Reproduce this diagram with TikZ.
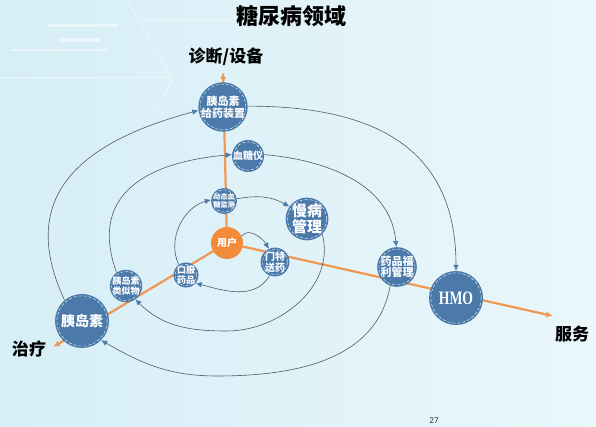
\documentclass[tikz,border=0pt]{standalone}
\usepackage{fontspec}
\newfontfamily\cjk{Noto Sans CJK SC}
\newfontfamily\numfont{Carlito}
\newfontfamily\hmofont{Liberation Serif}
\usetikzlibrary{calc,arrows.meta,backgrounds}

\definecolor{bgleft}{RGB}{214,238,246}
\definecolor{bgright}{RGB}{234,247,251}
\definecolor{nodeblue}{RGB}{74,121,170}
\definecolor{userorange}{RGB}{242,140,58}
\definecolor{axisorange}{RGB}{240,152,82}
\definecolor{arcgray}{RGB}{78,90,106}

\newcommand{\bfsize}[2]{\cjk\bfseries\fontsize{#1}{#2}\selectfont}

\tikzset{
    dashring/.style={path picture={
        \draw[white, densely dashed, line width=0.4pt]
            let \p1 = ($(path picture bounding box.north east)-(path picture bounding box.center)$)
            in (path picture bounding box.center) circle[radius=\x1-1.8pt];}},
    bubble/.style={circle, fill=nodeblue, inner sep=0pt, minimum size=#1,
        text=white, align=center, dashring},
    userdot/.style={circle, fill=userorange, inner sep=0pt, minimum size=32,
        text=white, font=\bfsize{10}{11}},
    spiral/.style={draw=arcgray, line width=0.6pt,
        -{Latex[length=6pt, width=5.5pt, color=nodeblue]}},
    axis/.style={draw=axisorange, line width=2.2pt,
        -{Latex[length=7pt, width=6pt]}},
    label/.style={font=\bfsize{17}{17}, text=black}
}

\begin{document}
\begin{tikzpicture}[x=1pt, y=1pt]
    \useasboundingbox (0,0) rectangle (596,427);

    % nodes on the spiral
    \node[userdot] (user) at (227,184) {用户};
    \node[bubble=28, font=\bfsize{10}{11}] (mtsy) at (275,165) {门特\\送药};
    \node[bubble=25, font=\bfsize{9}{9.5}] (kfyp) at (186,152) {口服\\药品};
    \node[bubble=26, font=\bfsize{7}{7.6}] (dtxt) at (224,226) {动态血\\糖监测};
    \node[bubble=40, font=\bfsize{15}{16}] (mbgl) at (307,208) {慢病\\管理};
    \node[bubble=32, font=\bfsize{9}{9.6}] (ydsl) at (126,141) {胰岛素\\类似物};
    \node[bubble=32, font=\bfsize{10}{11}] (xty) at (248,271) {血糖仪};
    \node[bubble=38, font=\bfsize{11}{11.6}] (ypfl) at (397,160) {药品福\\利管理};
    \node[bubble=54, font=\bfsize{14}{15}] (yds) at (82,106) {胰岛素};
    \node[bubble=46, font=\bfsize{11}{12}] (gyzz) at (223,320) {胰岛素\\给药装置};
    \node[bubble=54, font=\hmofont\bfseries\fontsize{19}{19}\selectfont] (hmo) at (456,129) {\scalebox{0.72}[1]{HMO}};

    % axis ends and lowest points of the outer turns
    \coordinate (up) at (223,355);
    \coordinate (left) at (53,80);
    \coordinate (right) at (553,111);
    \coordinate (low1) at (227,96);
    \coordinate (low2) at (217,51);

    \begin{scope}[on background layer]
        \shade[left color=bgleft, right color=bgright] (0,0) rectangle (596,427);
        % faint background strokes
        \begin{scope}[white, opacity=0.5]
            \draw[line width=3pt] (48,401) -- (118,401);
            \draw[line width=4pt] (58,387) -- (100,387);
            \draw[line width=2.5pt] (12,377) -- (108,377);
            \draw[line width=0.8pt] (0,350) -- (172,350);
            \draw[line width=0.8pt] (127,427) -- (173,347) -- (150,310);
            \draw[line width=0.8pt] (143,407) -- (230,407);
        \end{scope}
        \draw[axis] (user.center) -- (up);
        \draw[axis] (user.center) -- (left);
        \draw[axis] (user.center) -- (right);
    \end{scope}

    % the spiral, from the centre outwards
    \draw[spiral] (user.25) to[out=55, in=120] (mtsy.115);
    \draw[spiral] (mtsy.-112) to[out=-120, in=-15] (kfyp.-40);
    \draw[spiral] (kfyp.125) to[out=115, in=195] (dtxt.175);
    \draw[spiral] (dtxt.10) to[out=10, in=150] (mbgl.145);
    \draw[spiral] (mbgl.-45) to[out=-75, in=0] (low1) to[out=180, in=-45] (ydsl.-55);
    \draw[spiral] (ydsl.125) to[out=110, in=185, looseness=1.3] (xty.175);
    \draw[spiral] (xty.5) to[out=-5, in=95] (ypfl.92);
    \draw[spiral] (ypfl.-110) to[out=-100, in=0] (low2) to[out=180, in=-30] (yds.-45);
    \draw[spiral] (yds.130) to[out=115, in=195, looseness=1.3] (gyzz.188);
    \draw[spiral] (gyzz.2) to[out=0, in=90, looseness=1.2] (hmo.north);

    % texts
    \node[font=\bfsize{22}{22}] (title) at (291,411) {糖尿病领域};
    \node[label] (diag) at (226,370) {诊断/设备};
    \node[label] (treat) at (29,78) {治疗};
    \node[label] (serve) at (572,93) {服务};
    \node[font=\numfont\fontsize{9}{9}\selectfont, text=black!80] (page) at (434,6) {27};
\end{tikzpicture}
\end{document}
